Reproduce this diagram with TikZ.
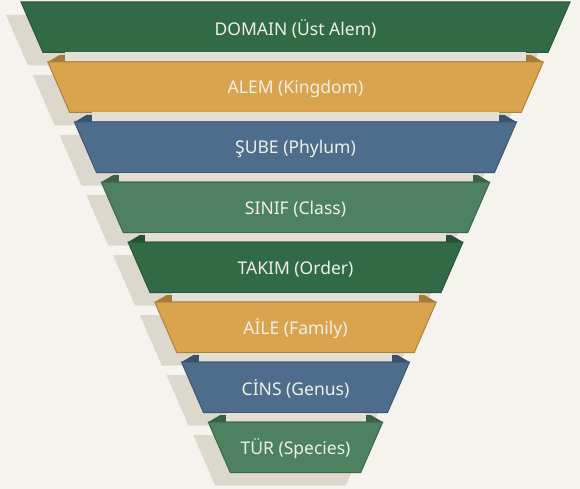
\documentclass[tikz,border=0pt]{standalone}
\usepackage{fontspec}
\setmainfont{Noto Sans}
\usetikzlibrary{calc}
\definecolor{bgcream}{HTML}{F5F3EE}
\definecolor{shadowgray}{HTML}{DCD8CE}
\definecolor{bandgray}{HTML}{E3DFD5}
\definecolor{darkgreen}{HTML}{336A46}
\definecolor{goldband}{HTML}{DAA34D}
\definecolor{slateblue}{HTML}{4E6D8D}
\definecolor{midgreen}{HTML}{4D8160}
\definecolor{labeltext}{HTML}{EEF0E6}

\begin{document}
\begin{tikzpicture}[
          x=1pt, y=-1pt,
          lbl/.style={font=\fontsize{17.5}{20}\selectfont, text=labeltext, inner sep=0pt},
          shade/.style={fill=shadowgray},
          band/.style={fill=bandgray}
      ]
        \fill[bgcream] (0,0) rectangle (580,489);
        \useasboundingbox (0,0) rectangle (580,489);
        % shadows, shifted down-left
        \foreach \n in {0,...,7}{
          \pgfmathsetmacro\yt{2+60*\n}
          \pgfmathsetmacro\hw{274.5-26.75*\n}
          \fill[shade] (295.5-\hw-15,\yt+13) -- (295.5+\hw-15,\yt+13)
                       -- (295.5+\hw-37,\yt+63.5) -- (295.5-\hw+7,\yt+63.5) -- cycle;
        }
        % funnel layers
        \foreach \n/\col/\txt in {0/darkgreen/{DOMAIN (Üst Alem)}, 1/goldband/{ALEM (Kingdom)},
                                  2/slateblue/{ŞUBE (Phylum)}, 3/midgreen/{SINIF (Class)},
                                  4/darkgreen/{TAKIM (Order)}, 5/goldband/{AİLE (Family)},
                                  6/slateblue/{CİNS (Genus)}, 7/midgreen/{TÜR (Species)}}{
          \pgfmathsetmacro\yt{2+60*\n}
          \pgfmathsetmacro\yb{\yt+50.5}
          \pgfmathsetmacro\hw{274.5-26.75*\n}
          \pgfmathsetmacro\hb{\hw-22}
          \ifnum\n>0
            % top face and light gap
            \fill[\col!75!black] (295.5-\hw,\yt) -- (295.5-\hw+12,\yt-7)
                                 -- (295.5+\hw-12,\yt-7) -- (295.5+\hw,\yt) -- cycle;
            \fill[band] (295.5-\hw-4.75+22,\yt-9.5) rectangle (295.5+\hw+4.75-22,\yt);
            \draw[shadowgray!80!black, line width=0.6pt] (295.5-\hw+17.25,\yt-0.3) -- (295.5+\hw-17.25,\yt-0.3);
          \fi
          \filldraw[fill=\col, draw=\col!80!black, line width=1pt]
            (295.5-\hw,\yt) -- (295.5+\hw,\yt) -- (295.5+\hb,\yb) -- (295.5-\hb,\yb) -- cycle;
          \node[lbl] (layer\n) at (295.5,\yt+27) {\txt};
        }
      \end{tikzpicture}
\end{document}
